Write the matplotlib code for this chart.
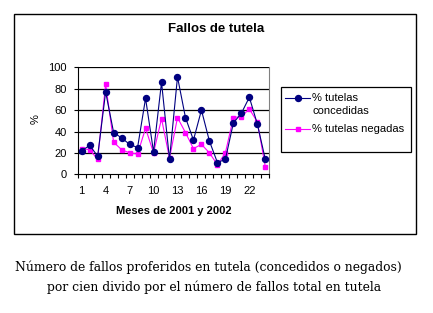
import matplotlib
matplotlib.use("Agg")
import matplotlib.pyplot as plt
from matplotlib.patches import Rectangle
from matplotlib.lines import Line2D

meses = list(range(1, 25))
concedidas = [22, 27, 17, 77, 39, 34, 28, 25, 71, 21, 86, 14, 91, 53, 32, 60, 31, 11, 14, 48, 57, 72, 47, 14]
negadas = [24, 23, 14, 84, 30, 23, 20, 19, 43, 20, 52, 15, 53, 39, 24, 28, 20, 9, 20, 53, 54, 61, 49, 7]
xtick_labels = [1, 4, 7, 10, 13, 16, 19, 22]
yticks = [0, 20, 40, 60, 80, 100]
series_labels = ["% tutelas\nconcedidas", "% tutelas negadas"]
colors = ["#000080", "#FF00FF"]

W, H = 433, 313
fig = plt.figure(figsize=(W / 100, H / 100), dpi=100)
fig.patch.set_facecolor("white")

def fx(px):
    return px / W

def fy(py):
    return 1 - py / H

sans = "Liberation Sans"
fs = 8

# outer chart frame
fig.patches.append(Rectangle((fx(14), fy(234)), fx(402), 220 / H, transform=fig.transFigure,
                             fill=False, edgecolor="black", linewidth=1.0))

ax = fig.add_axes([fx(77.7), fy(174.3), fx(191.6), 107 / H])
ax.set_xlim(0.5, 24.5)
ax.set_ylim(0, 100)
for y in yticks[1:]:
    ax.axhline(y, color="black", linewidth=0.9, zorder=1)

ax.plot(meses, concedidas, color=colors[0], linewidth=0.8, marker="o", markersize=4.3,
        markerfacecolor=colors[0], markeredgecolor=colors[0], zorder=3)
ax.plot(meses, negadas, color=colors[1], linewidth=0.8, marker="s", markersize=2.3,
        markerfacecolor=colors[1], markeredgecolor=colors[1], zorder=2)

ax.set_yticks(yticks)
ax.set_yticklabels([str(v) for v in yticks], fontsize=fs, family=sans)
ax.set_xticks([v - 0.5 for v in range(1, 26)])
ax.set_xticklabels([])
ax.set_xticks(xtick_labels, minor=True)
ax.set_xticklabels([str(v) for v in xtick_labels], minor=True, fontsize=fs, family=sans)
ax.tick_params(axis="x", which="major", length=3, width=0.8, direction="out")
ax.tick_params(axis="x", which="minor", length=0, pad=8.5)
ax.tick_params(axis="y", length=3, width=0.8, pad=5)

ax.spines["top"].set_visible(False)
ax.spines["right"].set_color("#808080")
ax.spines["right"].set_linewidth(0.8)
ax.spines["left"].set_linewidth(0.8)
ax.spines["bottom"].set_linewidth(0.8)

fig.text(fx(173.5), fy(211), "Meses de 2001 y 2002", ha="center", va="center",
         fontsize=fs, fontweight="bold", family=sans)
fig.text(fx(36), fy(119), "%", ha="center", va="center", rotation=90, fontsize=fs, family=sans)
fig.text(fx(216), fy(29), "Fallos de tutela", ha="center", va="center",
         fontsize=9.5, fontweight="bold", family=sans)

# legend box (drawn manually so the marker aligns with the first text line)
fig.patches.append(Rectangle((fx(281), fy(151.7)), fx(129.7), 65 / H, transform=fig.transFigure,
                             fill=False, edgecolor="black", linewidth=0.9))
leg_y = [97.7, 129]
for col, yy, mk, ms in zip(colors, leg_y, ["o", "s"], [4.3, 2.3]):
    fig.lines.append(Line2D([fx(285), fx(310)], [fy(yy), fy(yy)], transform=fig.transFigure,
                            color=col, linewidth=0.8))
    fig.lines.append(Line2D([fx(297.7)], [fy(yy)], transform=fig.transFigure, color=col,
                            marker=mk, markersize=ms, markerfacecolor=col, markeredgecolor=col))
first_lines = series_labels[0].split("\n")
fig.text(fx(312.5), fy(97.7), first_lines[0], ha="left", va="center", fontsize=fs, family=sans)
fig.text(fx(312.5), fy(110.7), first_lines[1], ha="left", va="center", fontsize=fs, family=sans)
fig.text(fx(312.5), fy(129), series_labels[1], ha="left", va="center", fontsize=fs, family=sans)

# caption
fig.text(fx(208.5), fy(267), "Número de fallos proferidos en tutela (concedidos o negados)",
         ha="center", va="center", fontsize=8.9, family="DejaVu Serif")
fig.text(fx(214), fy(287), "por cien divido por el número de fallos total en tutela",
         ha="center", va="center", fontsize=8.9, family="DejaVu Serif")

fig.savefig("out.png", dpi=100, facecolor="white")
